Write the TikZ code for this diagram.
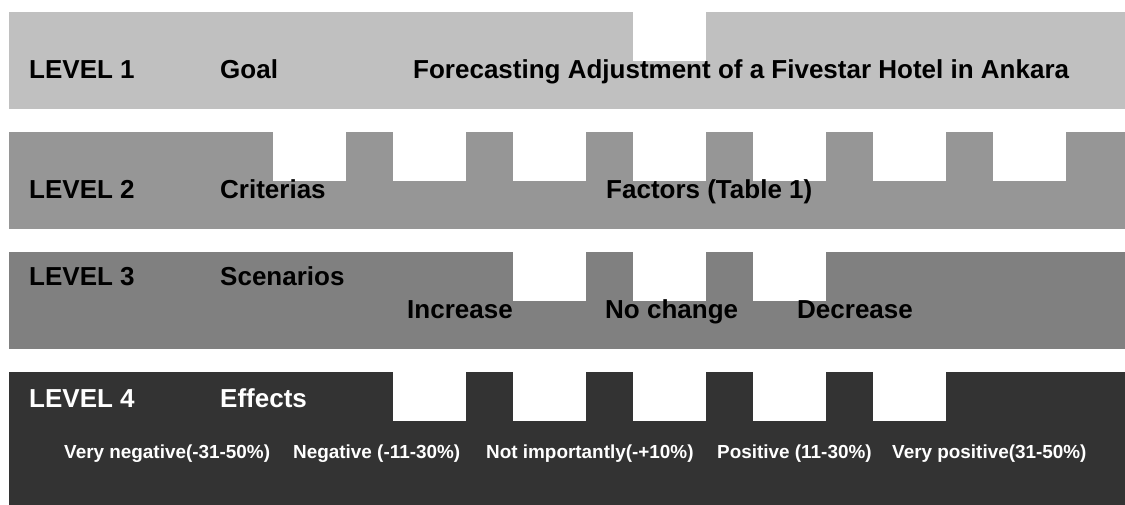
\documentclass[tikz,border=0pt]{standalone}
\usepackage{fontspec}
\setmainfont{Liberation Sans}
% bold Arial-metric face for all labels
\newfontfamily\labelbold{Liberation Sans Bold}
\begin{document}
\begin{tikzpicture}[x=1pt,y=-1pt,
  notch/.style={fill=white,draw=none},
  big/.style={anchor=base west,inner sep=0pt,font=\labelbold\fontsize{26}{30}\selectfont},
  small/.style={anchor=base west,inner sep=0pt,text=white,font=\labelbold\fontsize{18.9}{22}\selectfont}]
\definecolor{lvlone}{HTML}{C0C0C0}
\definecolor{lvltwo}{HTML}{969696}
\definecolor{lvlthree}{HTML}{808080}
\definecolor{lvlfour}{HTML}{333333}
\useasboundingbox (0,0) rectangle (1125,505);

% level bands
\fill[lvlone]   (9,12)  rectangle (1125,109);
\fill[lvltwo]   (9,132) rectangle (1125,229);
\fill[lvlthree] (9,252) rectangle (1125,349);
\fill[lvlfour]  (9,372) rectangle (1125,505);

% notches cut into the top edges
\fill[notch] (633,12) rectangle (706,61);
\foreach \x in {272.5,392.5,512.5,632.5,752.5,872.5,992.5}
  \fill[notch] (\x,132) rectangle ++(73,49);
\foreach \x in {512.5,632.5,752.5}
  \fill[notch] (\x,252) rectangle ++(73,49);
\foreach \x in {392.5,512.5,632.5,752.5,872.5}
  \fill[notch] (\x,372) rectangle ++(73,49);

% level 1
\node[big] (l1) at (29,79) {LEVEL 1};
\node[big] (goal) at (220,79) {Goal};
\node[big] (title) at (413,79) {Forecasting Adjustment of a Fivestar Hotel in Ankara};

% level 2
\node[big] (l2) at (29,199) {LEVEL 2};
\node[big] (crit) at (220,199) {Criterias};
\node[big] (fact) at (606,199) {Factors (Table 1)};

% level 3
\node[big] (l3) at (29,286) {LEVEL 3};
\node[big] (scen) at (220,286) {Scenarios};
\node[big] (inc) at (407,319) {Increase};
\node[big] (noch) at (605,319) {No change};
\node[big] (dec) at (797,319) {Decrease};

% level 4
\node[big,text=white] (l4) at (29,407) {LEVEL 4};
\node[big,text=white] (eff) at (220,407) {Effects};
\node[small] (vneg) at (64,458) {Very negative(-31-50\%)};
\node[small] (neg) at (293,458) {Negative (-11-30\%)};
\node[small] (notimp) at (486,458) {Not importantly(-+10\%)};
\node[small] (pos) at (717,458) {Positive (11-30\%)};
\node[small] (vpos) at (892,458) {Very positive(31-50\%)};
\end{tikzpicture}
\end{document}
